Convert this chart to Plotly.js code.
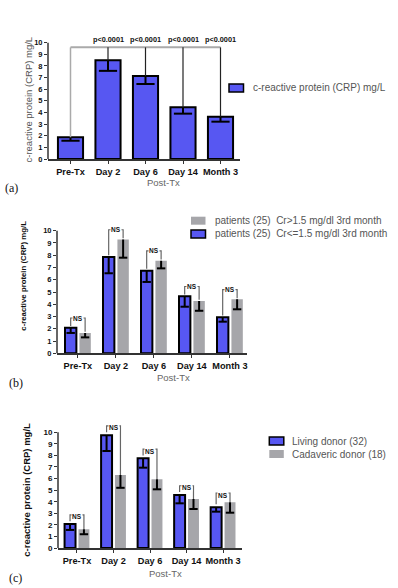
<!DOCTYPE html>
<html><head><meta charset="utf-8">
<script src="https://cdn.plot.ly/plotly-3.0.1.min.js"></script>
<style>html,body{margin:0;padding:0;background:#fff}#c{width:398px;height:588px}</style>
</head><body><div id="c"></div>
<script>
// ---- data ----
const categories = ['Pre-Tx', 'Day 2', 'Day 6', 'Day 14', 'Month 3'];
// panel (a)
const crpAll = [1.87, 8.5, 7.14, 4.45, 3.64];
const semAll = [0.3, 0.92, 0.69, 0.55, 0.43];
const pLabels = ['', 'p<0.0001', 'p<0.0001', 'p<0.0001', 'p<0.0001'];
// panel (b)
const crHigh = [1.65, 9.28, 7.55, 4.27, 4.4];      // Cr>1.5
const semCrHigh = [0.35, 1.48, 0.62, 0.8, 0.81];
const crLow = [2.08, 7.85, 6.74, 4.65, 2.94];      // Cr<=1.5
const semCrLow = [0.42, 1.32, 0.92, 0.85, 0.36];
const nsB = ['NS', 'NS', 'NS', 'NS', 'NS'];
// panel (c)
const living = [2.07, 9.75, 7.75, 4.58, 3.52];
const semLiving = [0.51, 1.37, 0.81, 0.72, 0.38];
const cadaveric = [1.63, 6.3, 5.94, 4.23, 3.95];
const semCadaveric = [0.44, 1.1, 0.87, 0.86, 0.9];
const nsC = ['NS', 'NS', 'NS', 'NS', 'NS'];
const yTicks = [0,1,2,3,4,5,6,7,8,9,10];

// ---- style ----
const W = 398, H = 588;
const PX = p => p / W, PY = p => 1 - p / H;
const BLUE = '#5757f2', GRAY = '#a6a6aa';
const SANS = '"Liberation Sans", Arial, sans-serif';
const SERIF = '"Liberation Serif", "Times New Roman", serif';
const idx = categories.map((c, i) => i);
const zeros = categories.map(() => 0);

const traces = [];
function barTrace(y, sem, xa, ya, color, outline, offset, width, thick) {
  return {
    type: 'bar', x: idx, y: y, xaxis: xa, yaxis: ya, offset: offset, width: width,
    marker: {color: color, line: {color: outline ? '#000' : color, width: outline ? 2 : 0}},
    error_y: {type: 'data', symmetric: false, array: zeros, arrayminus: sem, width: 0, thickness: thick, color: '#000'},
    showlegend: false, hoverinfo: 'skip'
  };
}
function capTrace(y, sem, xa, ya, shift, size) {
  return {
    type: 'scatter', mode: 'markers', x: idx.map(i => i + shift), y: y.map((v, i) => v - sem[i]),
    xaxis: xa, yaxis: ya, marker: {symbol: 'line-ew', size: size, line: {color: '#000', width: 2}},
    showlegend: false, hoverinfo: 'skip', cliponaxis: false
  };
}

// panel (a)
traces.push(barTrace(crpAll, semAll, 'x', 'y', BLUE, true, -0.335, 0.67, 2));
traces.push(capTrace(crpAll, semAll, 'x', 'y', 0, 13));
const sigY = 9.6;
traces.push({type: 'scatter', mode: 'lines', x: [0, 4], y: [sigY, sigY], xaxis: 'x', yaxis: 'y',
  line: {color: '#aaaaaa', width: 2}, showlegend: false, hoverinfo: 'skip'});
traces.push({type: 'scatter', mode: 'lines', x: [0, 0], y: [sigY, crpAll[0]], xaxis: 'x', yaxis: 'y',
  line: {color: '#aaaaaa', width: 1.5}, showlegend: false, hoverinfo: 'skip'});
{
  const xs = [], ys = [];
  idx.slice(1).forEach(i => { xs.push(i, i, null); ys.push(sigY, crpAll[i], null); });
  traces.push({type: 'scatter', mode: 'lines', x: xs, y: ys, xaxis: 'x', yaxis: 'y',
    line: {color: '#222', width: 1.2}, showlegend: false, hoverinfo: 'skip'});
}

// panels (b) and (c)
function pairPanel(blue, semBlue, gray, semGray, xa, ya, pad, gapL, gapR, capSize) {
  traces.push(barTrace(blue, semBlue, xa, ya, BLUE, true, -0.34, 0.30, 2));
  traces.push(barTrace(gray, semGray, xa, ya, GRAY, false, 0.04, 0.30, 2));
  traces.push(capTrace(blue, semBlue, xa, ya, -0.19, capSize));
  traces.push(capTrace(gray, semGray, xa, ya, 0.19, capSize));
  const xs = [], ys = [], tops = [];
  idx.forEach(i => {
    const top = Math.max(blue[i], gray[i]) + pad;
    tops.push(top);
    xs.push(i - 0.19, i - 0.19, i + 0.19, i + 0.19, null);
    ys.push(blue[i] + gapL, top, top, gray[i] + gapR, null);
  });
  traces.push({type: 'scatter', mode: 'lines', x: xs, y: ys, xaxis: xa, yaxis: ya,
    line: {color: '#666', width: 1.2}, showlegend: false, hoverinfo: 'skip'});
  return tops;
}
const topsB = pairPanel(crLow, semCrLow, crHigh, semCrHigh, 'x2', 'y2', 0.8, 0.15, 0.1, 6);
const topsC = pairPanel(living, semLiving, cadaveric, semCadaveric, 'x3', 'y3', 0.8, 0.25, 0.0, 6);

// ---- axes ----
function xAxis(domain, range, anchor) {
  return {domain: domain, range: range, anchor: anchor, tickmode: 'array', tickvals: idx, ticktext: categories,
    showline: true, linecolor: '#333', linewidth: 1.5, ticks: 'outside', ticklen: 3, tickcolor: '#333', tickwidth: 1,
    showgrid: false, zeroline: false, fixedrange: true,
    tickfont: {family: SANS, size: 9.2, color: '#111', weight: 700}};
}
function yAxis(domain, range, anchor, fs) {
  return {domain: domain, range: range, anchor: anchor, tickmode: 'array', tickvals: yTicks,
    showline: false, ticks: 'outside', ticklen: 3, tickcolor: '#333', tickwidth: 1,
    showgrid: false, zeroline: false, fixedrange: true,
    tickfont: {family: SANS, size: fs, color: '#111', weight: 700}};
}
const yDomA = [PY(159), PY(36.9)], rangeA = [0, 10.5];
const yDomB = [PY(353.3), PY(224.6)], rangeB = [0, 10.5];
const yDomC = [PY(548), PY(423)], rangeC = [0, 10.8];
const yAt = (dom, rng, v) => dom[0] + (dom[1] - dom[0]) * (v - rng[0]) / (rng[1] - rng[0]);

const xDomA = [PX(48), PX(240)], xDomB = [PX(57), PX(247)], xDomC = [PX(58), PX(241.7)];

const annotations = [];
function paperText(text, x, y, font, extra) {
  annotations.push(Object.assign({xref: 'paper', yref: 'paper', x: PX(x), y: PY(y), xanchor: 'center', yanchor: 'middle',
    text: text, showarrow: false, font: font}, extra || {}));
}
// p-values (a)
idx.forEach(i => { if (pLabels[i]) annotations.push({xref: 'x', yref: 'y', x: i, y: 10.3, xanchor: 'center', yanchor: 'middle',
  text: pLabels[i], showarrow: false, font: {family: SANS, size: 7.3, color: '#111', weight: 700}}); });
// NS labels
idx.forEach(i => {
  annotations.push({xref: 'x2', yref: 'y2', x: i, y: topsB[i], xanchor: 'center', yanchor: 'middle', text: nsB[i], showarrow: false,
    bgcolor: '#fff', borderpad: 0, font: {family: SANS, size: 6.5, color: '#111', weight: 700}});
  annotations.push({xref: 'x3', yref: 'y3', x: i, y: topsC[i], yshift: -2, xanchor: 'center', yanchor: 'middle', text: nsC[i], showarrow: false,
    bgcolor: '#fff', borderpad: 0, font: {family: SANS, size: 6.5, color: '#111', weight: 700}});
});
// axis titles
const title = 'c-reactive protein (CRP) mg/L';
paperText(title, 28.5, 100, {family: SANS, size: 9.5, color: '#555'}, {textangle: -90});
paperText(title, 22.7, 276, {family: SANS, size: 7.8, color: '#111', weight: 700}, {textangle: -90});
paperText(title, 25.7, 490, {family: SANS, size: 9.5, color: '#111', weight: 700}, {textangle: -90});
[[163, 182], [173.5, 377], [165.7, 573]].forEach(p => paperText('Post-Tx', p[0], p[1], {family: SANS, size: 9.5, color: '#666'}));
[['(a)', 2.5, 187.7], ['(b)', 6.5, 382.7], ['(c)', 6.5, 577.7]].forEach(p =>
  paperText(p[0], p[1], p[2], {family: SERIF, size: 12, color: '#111'}, {xanchor: 'left'}));
// legends
const legendItems = [
  ['c-reactive protein (CRP) mg/L', BLUE, true, 229, 84, 251, 88],
  ['patients (25)\u00a0 Cr>1.5 mg/dl 3rd month', GRAY, false, 191, 216.7, 212.7, 220.5],
  ['patients (25)\u00a0 Cr<=1.5 mg/dl 3rd month', BLUE, true, 191, 230, 212.7, 233.8],
  ['Living donor (32)', BLUE, true, 269.3, 437, 290, 441],
  ['Cadaveric donor (18)', GRAY, false, 269.3, 450, 290, 454]
];
const shapes = [];
legendItems.forEach(it => {
  shapes.push({type: 'rect', xref: 'paper', yref: 'paper', x0: PX(it[3]), x1: PX(it[3] + 14.5), y0: PY(it[4]), y1: PY(it[4] + 8),
    fillcolor: it[1], line: {color: it[2] ? '#000' : it[1], width: it[2] ? 1.5 : 0}});
  paperText(it[0], it[5], it[6], {family: SANS, size: 10, color: '#555'}, {xanchor: 'left'});
});
// y-axis lines drawn only from 0 up to 10
[[xDomA, yDomA, rangeA], [xDomB, yDomB, rangeB], [xDomC, yDomC, rangeC]].forEach(a =>
  shapes.push({type: 'line', xref: 'paper', yref: 'paper', x0: a[0][0], x1: a[0][0], y0: a[1][0], y1: yAt(a[1], a[2], 10),
    line: {color: '#333', width: 1.5}}));

const layout = {
  width: W, height: H, margin: {l: 0, r: 0, t: 0, b: 0},
  paper_bgcolor: '#fff', plot_bgcolor: '#fff', showlegend: false, barmode: 'overlay',
  font: {family: SANS},
  xaxis: xAxis(xDomA, [-0.6, 4.52], 'y'),
  yaxis: yAxis(yDomA, rangeA, 'x', 7.5),
  xaxis2: xAxis(xDomB, [-0.55, 4.45], 'y2'),
  yaxis2: yAxis(yDomB, rangeB, 'x2', 7.5),
  xaxis3: xAxis(xDomC, [-0.52, 4.51], 'y3'),
  yaxis3: yAxis(yDomC, rangeC, 'x3', 8),
  annotations: annotations, shapes: shapes
};
Plotly.newPlot('c', traces, layout, {staticPlot: true, displayModeBar: false});
</script></body></html>
